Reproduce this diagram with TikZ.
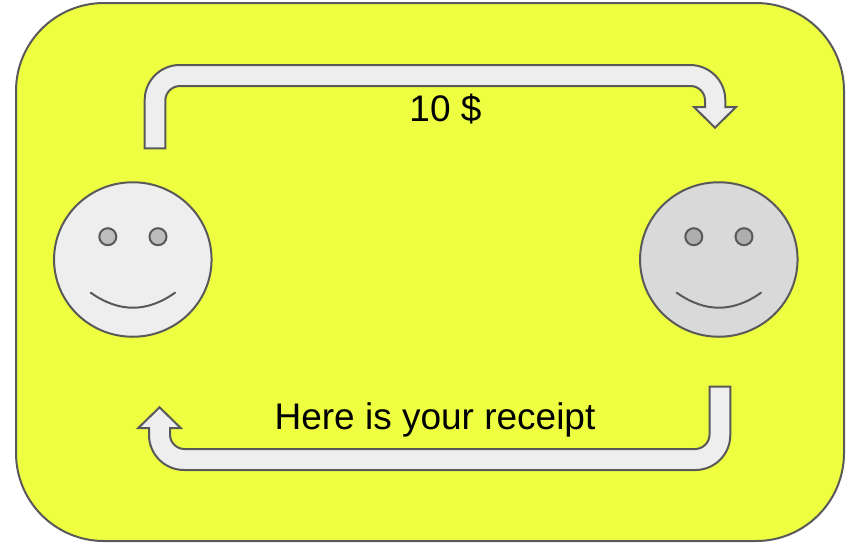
\documentclass[tikz,border=0pt]{standalone}
\usepackage{fontspec}
\setmainfont{Liberation Sans}
\usetikzlibrary{shapes.geometric}
\definecolor{bgy}{HTML}{EEFF41}
\definecolor{edge}{HTML}{595959}
\definecolor{lightf}{HTML}{EEEEEE}
\definecolor{darkf}{HTML}{D9D9D9}
\definecolor{eyef}{HTML}{BDBDBD}
\definecolor{eyed}{HTML}{AEAEAE}
\tikzset{
  shape line/.style={draw=edge,line width=2pt,line join=miter},
  bentarrow/.style={shape line,fill=lightf},
  facebase/.style={ellipse,shape line,inner sep=0pt,outer sep=0pt,minimum width=157.5pt,minimum height=154.5pt},
  eyebase/.style={circle,shape line,inner sep=0pt,outer sep=0pt,minimum size=17pt},
  smile/.style={draw=edge,line width=2pt,line cap=round},
  caption/.style={inner sep=0pt,font=\fontsize{37}{40}\selectfont,text=black}
}
\begin{document}
\begin{tikzpicture}[x=1pt,y=-1pt]
\useasboundingbox (0,0) rectangle (851,542);
\draw[shape line,fill=bgy,rounded corners=88pt] (16,3) rectangle (844,541);
% top arrow
\draw[bentarrow] (144.7,148.3) -- (144.7,100)
  arc[start angle=180,end angle=90,x radius=35pt,y radius=35pt] -- (690,65)
  arc[start angle=90,end angle=0,x radius=35.3pt,y radius=35pt] -- (725.3,107)
  -- (736,107) -- (715,127.7) -- (694,107) -- (705,107) -- (705,100.5)
  arc[start angle=0,end angle=90,x radius=14.5pt,y radius=14.5pt] -- (180,86)
  arc[start angle=90,end angle=180,x radius=14.7pt,y radius=14.7pt] -- (165.3,148.3) -- cycle;
% bottom arrow
\draw[bentarrow] (730.3,386.7) -- (730.3,435)
  arc[start angle=0,end angle=-90,x radius=35pt,y radius=35pt] -- (184,470)
  arc[start angle=-90,end angle=-180,x radius=35pt,y radius=35pt] -- (149,428)
  -- (138.3,428) -- (159.5,407.3) -- (180.7,428) -- (170,428) -- (170,434.5)
  arc[start angle=180,end angle=270,x radius=14.5pt,y radius=14.5pt] -- (695,449)
  arc[start angle=270,end angle=360,x radius=14.5pt,y radius=14.5pt] -- (709.5,386.7) -- cycle;
% left face
\node[facebase,fill=lightf] (faceL) at (132.8,259.5) {};
\node[eyebase,fill=eyef] (eyeLa) at (107.8,236.7) {};
\node[eyebase,fill=eyef] (eyeLb) at (158,236.7) {};
\draw[smile] (90.7,292.7) .. controls (119,312.7) and (147,312.7) .. (175,292.7);
% right face
\node[facebase,fill=darkf] (faceR) at (718.8,259.5) {};
\node[eyebase,fill=eyed] (eyeRa) at (693.8,236.7) {};
\node[eyebase,fill=eyed] (eyeRb) at (744,236.7) {};
\draw[smile] (676.7,292.7) .. controls (705,312.7) and (733,312.7) .. (761,292.7);
% labels
\node[caption] (price) at (445.5,109) {10 \$};
\node[caption] (receipt) at (435,420) {Here is your receipt};
\end{tikzpicture}
\end{document}
